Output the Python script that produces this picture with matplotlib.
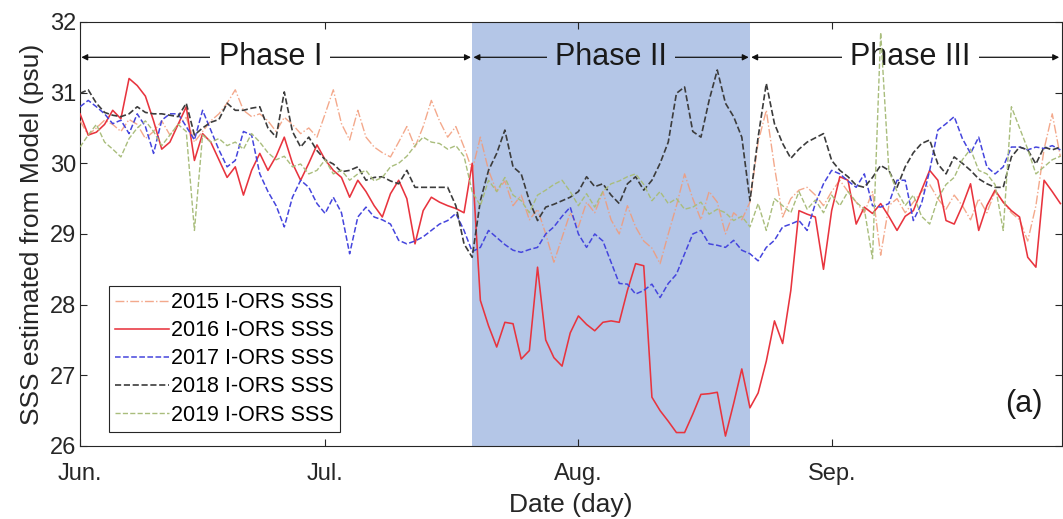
import numpy as np
import matplotlib
matplotlib.use("Agg")
import matplotlib.pyplot as plt

# dias desde el 1 de junio
dias = list(range(1, 122))

sss_2015 = [30.60, 30.40, 30.50, 30.61, 30.55, 30.45, 30.62, 30.55, 30.35, 30.45,
            30.60, 30.40, 30.55, 30.65, 30.30, 30.45, 30.60, 30.70, 30.85, 31.04,
            30.75, 30.66, 30.70, 30.60, 30.45, 30.65, 30.55, 30.42, 30.50, 30.37,
            30.70, 31.04, 30.56, 30.33, 30.75, 30.37, 30.23, 30.15, 30.09, 30.30,
            30.52, 30.23, 30.52, 30.89, 30.60, 30.37, 30.52, 30.23, 29.90, 30.37,
            29.90, 29.60, 29.75, 29.40, 29.55, 29.20, 29.35, 29.00, 28.60, 28.95,
            29.30, 29.10, 29.45, 29.30, 29.60, 29.20, 29.00, 29.40, 29.10, 28.90,
            28.80, 28.58, 29.00, 29.40, 29.85, 29.50, 29.20, 29.60, 29.45, 29.00,
            29.30, 29.20, 29.45, 30.30, 30.75, 29.95, 29.24, 29.50, 29.62, 29.66,
            29.55, 29.40, 29.60, 29.76, 29.60, 29.45, 29.30, 29.60, 28.70, 29.40,
            29.50, 29.30, 29.45, 29.60, 29.70, 29.50, 29.35, 29.55, 29.40, 29.20,
            29.50, 29.30, 29.60, 29.45, 29.30, 29.20, 28.90, 29.40, 30.20, 30.70,
            30.09]

sss_2016 = [30.70, 30.40, 30.44, 30.55, 30.75, 30.63, 31.20, 31.10, 30.95, 30.60,
            30.20, 30.30, 30.55, 30.80, 30.04, 30.42, 30.30, 30.05, 29.80, 29.95,
            29.55, 29.90, 30.14, 29.90, 30.10, 30.37, 30.00, 29.76, 30.00, 30.26,
            30.05, 29.90, 29.80, 29.52, 29.76, 29.60, 29.40, 29.24, 29.57, 29.76,
            29.50, 28.86, 29.33, 29.52, 29.45, 29.40, 29.36, 29.30, 30.00, 28.06,
            27.70, 27.40, 27.75, 27.73, 27.23, 27.35, 28.53, 27.50, 27.25, 27.13,
            27.60, 27.84, 27.72, 27.63, 27.75, 27.77, 27.75, 28.20, 28.58, 28.55,
            26.69, 26.50, 26.35, 26.19, 26.19, 26.45, 26.73, 26.74, 26.76, 26.14,
            26.60, 27.09, 26.54, 26.75, 27.20, 27.77, 27.45, 28.20, 29.33, 29.28,
            29.24, 28.50, 29.33, 29.81, 29.76, 29.14, 29.38, 29.29, 29.43, 29.25,
            29.05, 29.25, 29.33, 29.62, 29.90, 29.76, 29.19, 29.14, 29.40, 29.71,
            29.05, 29.40, 29.62, 29.45, 29.33, 29.24, 28.67, 28.53, 29.76, 29.60,
            29.43]

sss_2017 = [30.80, 30.89, 30.80, 30.70, 30.56, 30.61, 30.42, 30.70, 30.52, 30.14,
            30.61, 30.70, 30.70, 30.52, 30.33, 30.75, 30.47, 30.19, 29.95, 30.04,
            30.45, 30.40, 29.85, 29.60, 29.40, 29.10, 29.52, 29.76, 29.66, 29.43,
            29.29, 29.52, 29.30, 28.72, 29.24, 29.38, 29.24, 29.20, 29.14, 28.91,
            28.86, 28.90, 28.96, 29.05, 29.14, 29.19, 29.29, 29.05, 28.75, 28.81,
            29.05, 28.95, 28.85, 28.77, 28.74, 28.78, 28.81, 29.00, 29.10, 29.25,
            29.38, 29.00, 28.81, 29.00, 28.90, 28.60, 28.30, 28.29, 28.15, 28.20,
            28.29, 28.10, 28.30, 28.43, 28.72, 29.00, 29.05, 28.86, 28.84, 28.81,
            28.91, 28.77, 28.72, 28.62, 28.81, 28.91, 29.10, 29.14, 29.19, 29.05,
            29.43, 29.71, 29.90, 29.85, 29.75, 29.66, 29.85, 29.40, 29.38, 29.43,
            29.76, 29.76, 29.19, 29.43, 29.90, 30.47, 30.56, 30.66, 30.35, 30.14,
            30.37, 29.95, 29.85, 29.95, 30.23, 30.23, 30.19, 30.23, 30.21, 30.25,
            30.19]

sss_2018 = [30.99, 31.04, 30.85, 30.72, 30.68, 30.66, 30.70, 30.80, 30.72, 30.70,
            30.70, 30.68, 30.66, 30.85, 30.40, 30.50, 30.58, 30.62, 30.85, 30.75,
            30.75, 30.78, 30.80, 30.50, 30.37, 31.01, 30.45, 30.23, 30.37, 30.18,
            30.05, 29.99, 29.88, 29.90, 29.95, 29.76, 29.80, 29.81, 29.75, 29.71,
            29.90, 29.66, 29.66, 29.66, 29.66, 29.66, 29.40, 28.86, 28.67, 29.47,
            29.90, 30.14, 30.47, 29.95, 29.85, 29.47, 29.19, 29.38, 29.42, 29.47,
            29.52, 29.60, 29.81, 29.67, 29.71, 29.55, 29.43, 29.71, 29.81, 29.62,
            29.76, 30.00, 30.30, 30.99, 31.08, 30.45, 30.37, 30.89, 31.32, 30.85,
            30.66, 30.37, 29.47, 30.37, 31.13, 30.56, 30.28, 30.07, 30.20, 30.30,
            30.36, 30.42, 30.04, 29.90, 29.81, 29.69, 29.66, 29.80, 29.97, 29.90,
            29.66, 29.95, 30.15, 30.28, 30.33, 29.99, 29.85, 30.09, 30.00, 29.90,
            29.78, 29.71, 29.66, 29.66, 30.09, 30.23, 30.19, 29.99, 30.23, 30.19,
            30.23]

sss_2019 = [30.23, 30.40, 30.55, 30.30, 30.20, 30.09, 30.35, 30.50, 30.60, 30.45,
            30.25, 30.40, 30.55, 30.45, 29.05, 30.40, 30.30, 30.35, 30.25, 30.30,
            30.20, 30.42, 30.30, 30.15, 30.05, 30.10, 29.95, 29.99, 29.85, 29.90,
            30.05, 29.85, 29.90, 29.76, 29.85, 29.90, 29.75, 29.80, 29.95, 30.00,
            30.10, 30.25, 30.37, 30.30, 30.28, 30.20, 30.25, 30.10, 29.60, 29.40,
            29.76, 29.60, 29.80, 29.55, 29.47, 29.30, 29.55, 29.62, 29.70, 29.76,
            29.60, 29.40, 29.57, 29.38, 29.60, 29.71, 29.75, 29.81, 29.85, 29.70,
            29.47, 29.60, 29.43, 29.50, 29.35, 29.38, 29.45, 29.28, 29.35, 29.30,
            29.19, 29.25, 29.10, 29.43, 29.05, 29.50, 29.40, 29.30, 29.60, 29.35,
            29.48, 29.30, 29.55, 29.40, 29.60, 29.45, 29.35, 28.65, 31.85, 29.90,
            29.60, 29.40, 29.55, 29.25, 29.14, 29.50, 29.70, 29.80, 30.05, 30.20,
            29.90, 29.85, 29.70, 29.05, 30.80, 30.50, 30.20, 29.85, 29.95, 30.05,
            30.10]

etiquetas = ["2015 I-ORS SSS", "2016 I-ORS SSS", "2017 I-ORS SSS",
             "2018 I-ORS SSS", "2019 I-ORS SSS"]
meses = ["Jun.", "Jul.", "Aug.", "Sep."]
dias_meses = [1, 31, 62, 93]

# limites de las fases (dia)
fases = ["Phase I", "Phase II", "Phase III"]
inicio_fases = [1, 49, 83]
fin_fases = [49, 83, 121]

plt.rcParams['font.family'] = ['Liberation Sans', 'DejaVu Sans']
gris = '#262626'
sombra = '#b4c6e7'

fig = plt.figure(figsize=(10.63, 5.19), dpi=100)
ax = fig.add_axes([0.0753, 0.1407, 0.9238, 0.817])

ax.axvspan(inicio_fases[1], fin_fases[1], color=sombra, lw=0, zorder=0)

ax.plot(dias, sss_2015, '-.', color='#f29a78', lw=1.0, alpha=0.85,
        label=etiquetas[0], zorder=3)
ax.plot(dias, sss_2016, '-', color='#e8343e', lw=1.15, label=etiquetas[1],
        zorder=3)
ax.plot(dias, sss_2017, '--', color='#4545dd', lw=1.1, label=etiquetas[2],
        zorder=3)
ax.plot(dias, sss_2018, '--', color='#3c3c3c', lw=1.2, label=etiquetas[3],
        zorder=3)
ax.plot(dias, sss_2019, '--', color='#a9bd7c', lw=1.0, label=etiquetas[4],
        zorder=3)

# flechas de las fases (el fondo del texto tapa la flecha, no las series)
y_fase = 31.5
centros = [24.3, 66.0, 102.6]
fondos = ['white', sombra, 'white']
for i in range(len(fases)):
    ax.annotate('', xy=(fin_fases[i] - 0.15, y_fase),
                xytext=(inicio_fases[i] + 0.15, y_fase),
                arrowprops=dict(arrowstyle='<|-|>', color='#111111', lw=0.9,
                                mutation_scale=9, shrinkA=0, shrinkB=0),
                zorder=1)
    ax.text(centros[i], y_fase, fases[i], fontsize=22, color='#1a1a1a',
            ha='center', va='center', zorder=2,
            bbox=dict(facecolor=fondos[i], edgecolor='none', pad=6))

ax.text(116.5, 26.6, '(a)', fontsize=22, color='#1a1a1a',
        ha='center', va='center')

ax.set_xlim(1, 121.2)
ax.set_ylim(26, 32)
ax.set_xticks(dias_meses)
ax.set_xticklabels(meses)
ax.set_yticks(range(26, 33))
ax.tick_params(direction='in', top=True, right=True, length=5, width=0.8,
               labelsize=17, colors=gris, pad=3)
ax.tick_params(axis='x', pad=12)
for lado in ax.spines.values():
    lado.set_color(gris)
    lado.set_linewidth(0.8)

ax.set_xlabel('Date (day)', fontsize=19, color=gris, labelpad=6)
ax.set_ylabel('SSS estimated from Model (psu)', fontsize=19, color=gris,
              labelpad=4)

leyenda = ax.legend(loc='lower left', bbox_to_anchor=(0.029, 0.033),
                    borderaxespad=0, fontsize=15.5, labelspacing=0.33,
                    handlelength=2.5, handletextpad=0.1, borderpad=0.3,
                    fancybox=False, framealpha=1, edgecolor=gris)
leyenda.get_frame().set_linewidth(0.8)
leyenda.set_zorder(5)

fig.savefig('out.png', dpi=100)
